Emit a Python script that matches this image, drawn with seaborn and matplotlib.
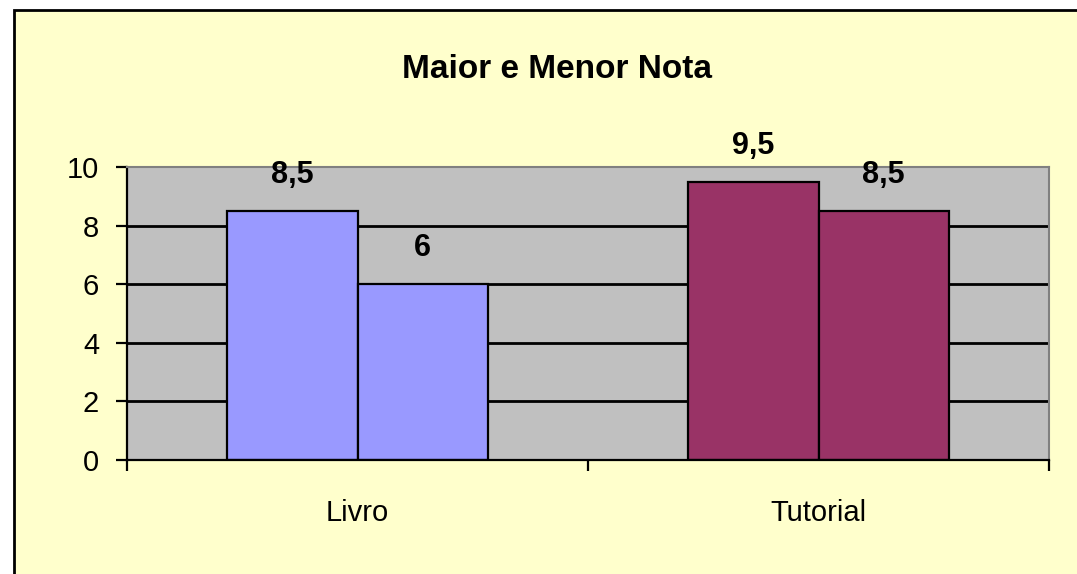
import pandas as pd
import matplotlib
matplotlib.use("Agg")
import matplotlib.pyplot as plt
import seaborn as sns
from matplotlib.patches import Rectangle

# dados do grafico
categorias = ['Livro', 'Tutorial']
maior_nota = [8.5, 9.5]
menor_nota = [6, 8.5]
cores_categoria = ['#9999FF', '#993366']

df = pd.DataFrame({
    'categoria': categorias * 2,
    'serie': ['Maior'] * 2 + ['Menor'] * 2,
    'nota': maior_nota + menor_nota,
})

sns.set_style("white")
plt.rcParams['font.family'] = ['Liberation Sans', 'DejaVu Sans']
plt.rcParams['text.color'] = 'black'
plt.rcParams['xtick.color'] = 'black'
plt.rcParams['ytick.color'] = 'black'

fig = plt.figure(figsize=(10.77, 5.74), dpi=100)
fig.patch.set_facecolor('white')

# area do grafico (amarelo com borda preta, cortada a direita e embaixo)
fig.add_artist(Rectangle((14 / 1077, -0.05), 1.1, 1 - 10 / 574 + 0.05,
                         transform=fig.transFigure, facecolor='#FFFFCC',
                         edgecolor='black', linewidth=2, zorder=-5))

ax = fig.add_axes([127 / 1077, 114 / 574, 922 / 1077, 293 / 574])
sns.barplot(data=df, x='categoria', y='nota', hue='serie', width=0.564,
            ax=ax, edgecolor='black', linewidth=1.6, legend=False, saturation=1)

for cont in ax.containers:
    for bar, cor in zip(cont, cores_categoria):
        bar.set_facecolor(cor)
    rotulos = [f'{v:g}'.replace('.', ',') for v in cont.datavalues]
    ax.bar_label(cont, labels=rotulos, padding=15, fontsize=22, fontweight='bold',
                 color='black')

ax.set_facecolor('#C0C0C0')
ax.set_ylim(0, 10)
ax.set_xlim(-0.5, 1.5)
ax.set_yticks(range(0, 11, 2))
ax.set_axisbelow(True)
ax.yaxis.grid(True, color='black', linewidth=2)
ax.get_ygridlines()[-1].set_visible(False)

for lado in ['top', 'right']:
    ax.spines[lado].set_color('#808080')
    ax.spines[lado].set_linewidth(1.5)
for lado in ['left', 'bottom']:
    ax.spines[lado].set_color('black')
    ax.spines[lado].set_linewidth(1.6)

ax.set_xticks([-0.5, 0.5, 1.5], minor=True)
ax.tick_params(axis='x', which='major', bottom=True, length=0, pad=28, labelsize=21,
               labelcolor='black')
ax.tick_params(axis='x', which='minor', bottom=True, length=8, width=1.6,
               direction='out', color='black')
ax.tick_params(axis='y', left=True, length=8, width=1.6, direction='out', pad=12,
               labelsize=21, color='black', labelcolor='black')
ax.set_xlabel('')
ax.set_ylabel('')

fig.text(557 / 1077, 1 - 70 / 574, 'Maior e Menor Nota', ha='center', va='center',
         fontsize=24, fontweight='bold', color='black')

plt.savefig('out.png', dpi=100)
plt.close()
